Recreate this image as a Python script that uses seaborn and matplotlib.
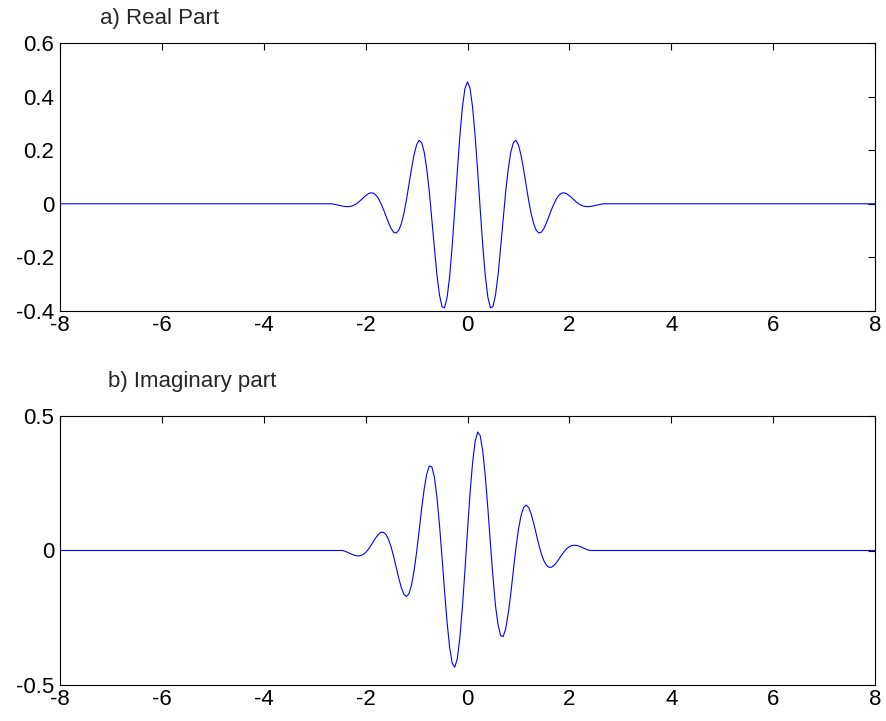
import numpy as np
import matplotlib
matplotlib.use("Agg")
import matplotlib.pyplot as plt
import seaborn as sns

# real part, read at x = -2.70 ... 2.70 (step 0.05)
real_x = np.round(np.arange(-2.70, 2.7001, 0.05), 2)
real_y = [
    0.0, -0.0005, -0.0023, -0.0044, -0.0066, -0.0087, -0.0102, -0.0106, -0.0097, -0.0069,
    -0.0021, 0.0046, 0.0128, 0.0217, 0.0303, 0.0372, 0.0409, 0.0400, 0.0331, 0.0203,
    0.0011, -0.021, -0.046, -0.071, -0.092, -0.106, -0.109, -0.099, -0.075, -0.037,
    0.013, 0.071, 0.130, 0.182, 0.220, 0.237, 0.228, 0.193, 0.130, 0.0454,
    -0.0589, -0.1640, -0.2651, -0.3402, -0.3839, -0.3882, -0.3490, -0.2699, -0.1561, -0.0212,
    0.1205, 0.2529, 0.3604, 0.4307, 0.455, 0.4307, 0.3604, 0.2529, 0.1205, -0.0212,
    -0.1561, -0.2699, -0.3490, -0.3882, -0.3839, -0.3402, -0.2651, -0.1640, -0.0589, 0.0454,
    0.130, 0.193, 0.228, 0.237, 0.220, 0.182, 0.130, 0.071, 0.013, -0.037,
    -0.075, -0.099, -0.109, -0.106, -0.092, -0.071, -0.046, -0.021, 0.0011, 0.0203,
    0.0331, 0.0400, 0.0409, 0.0372, 0.0303, 0.0217, 0.0128, 0.0046, -0.0021, -0.0069,
    -0.0097, -0.0106, -0.0102, -0.0087, -0.0066, -0.0044, -0.0023, -0.0005, 0.0,
]

# imaginary part, read at x = -2.50 ... 2.50 (step 0.05)
imag_x = np.round(np.arange(-2.50, 2.5001, 0.05), 2)
imag_y = [
    0.0, 0.0, -0.0033, -0.0072, -0.0116, -0.0157, -0.0188, -0.0203, -0.0192, -0.0150,
    -0.0074, 0.0036, 0.0173, 0.0327, 0.0474, 0.0597, 0.0673, 0.0677, 0.0594, 0.0410,
    0.0134, -0.0220, -0.0619, -0.1024, -0.1376, -0.1623, -0.1712, -0.1608, -0.1291, -0.0768,
    -0.0076, 0.0722, 0.1560, 0.2288, 0.2846, 0.3142, 0.3110, 0.2725, 0.1981, 0.0956,
    -0.0250, -0.1520, -0.2681, -0.3612, -0.4193, -0.4339, -0.4015, -0.3245, -0.2111, -0.0733,
    0.0733, 0.2122, 0.3272, 0.4061, 0.4404, 0.4270, 0.3690, 0.2748, 0.1562, 0.0258,
    -0.0990, -0.2058, -0.2760, -0.3160, -0.3200, -0.2910, -0.2340, -0.1600, -0.0745, 0.0078,
    0.0780, 0.1290, 0.1590, 0.1690, 0.1600, 0.1360, 0.1010, 0.0610, 0.0215, -0.0125,
    -0.0380, -0.0550, -0.0625, -0.0620, -0.0550, -0.0440, -0.0305, -0.0162, -0.0035, 0.0070,
    0.0145, 0.0185, 0.0195, 0.0185, 0.0155, 0.0115, 0.0070, 0.0032, 0.0, 0.0, 0.0,
]

x_limits = [-8, 8]
x_ticks = [-8, -6, -4, -2, 0, 2, 4, 6, 8]
real_ticks = [-0.4, -0.2, 0, 0.2, 0.4, 0.6]
real_labels = ["-0.4", "-0.2", "0", "0.2", "0.4", "0.6"]
imag_ticks = [-0.5, 0, 0.5]
imag_labels = ["-0.5", "0", "0.5"]

sns.set_style("white")
plt.rcParams["font.family"] = ["Liberation Sans", "DejaVu Sans"]
plt.rcParams["axes.unicode_minus"] = False

fig = plt.figure(figsize=(8.86, 7.21), dpi=100)
ax1 = fig.add_axes([60 / 886, 410 / 721, 815 / 886, 268 / 721])
ax2 = fig.add_axes([60 / 886, 36 / 721, 815 / 886, 269 / 721])

# add the flat zero line outside the wavelet support
x1 = np.concatenate([[x_limits[0]], real_x, [x_limits[1]]])
y1 = np.concatenate([[0.0], real_y, [0.0]])
x2 = np.concatenate([[x_limits[0]], imag_x, [x_limits[1]]])
y2 = np.concatenate([[0.0], imag_y, [0.0]])

sns.lineplot(x=x1, y=y1, ax=ax1, color="#0000ff", linewidth=0.8)
sns.lineplot(x=x2, y=y2, ax=ax2, color="#0000ff", linewidth=0.8)

for ax, ticks, labels, lim in [(ax1, real_ticks, real_labels, (-0.4, 0.6)),
                               (ax2, imag_ticks, imag_labels, (-0.5, 0.5))]:
    ax.set_xlim(*x_limits)
    ax.set_ylim(*lim)
    ax.set_xticks(x_ticks)
    ax.set_xticklabels([str(t) for t in x_ticks])
    ax.set_yticks(ticks)
    ax.set_yticklabels(labels)
    ax.tick_params(direction="in", length=5, width=0.8, top=True, right=True,
                   labelsize=16, colors="black")
    ax.tick_params(axis="x", pad=3)
    ax.tick_params(axis="y", pad=4)
    for s in ax.spines.values():
        s.set_linewidth(0.8)
        s.set_color("black")
    ax.set_xlabel("")
    ax.set_ylabel("")

fig.text(100 / 886, 1 - 24 / 721, "a) Real Part", fontsize=16, ha="left", va="baseline")
fig.text(108 / 886, 1 - 387 / 721, "b) Imaginary part", fontsize=16, ha="left", va="baseline")

fig.savefig("out.png", dpi=100)
